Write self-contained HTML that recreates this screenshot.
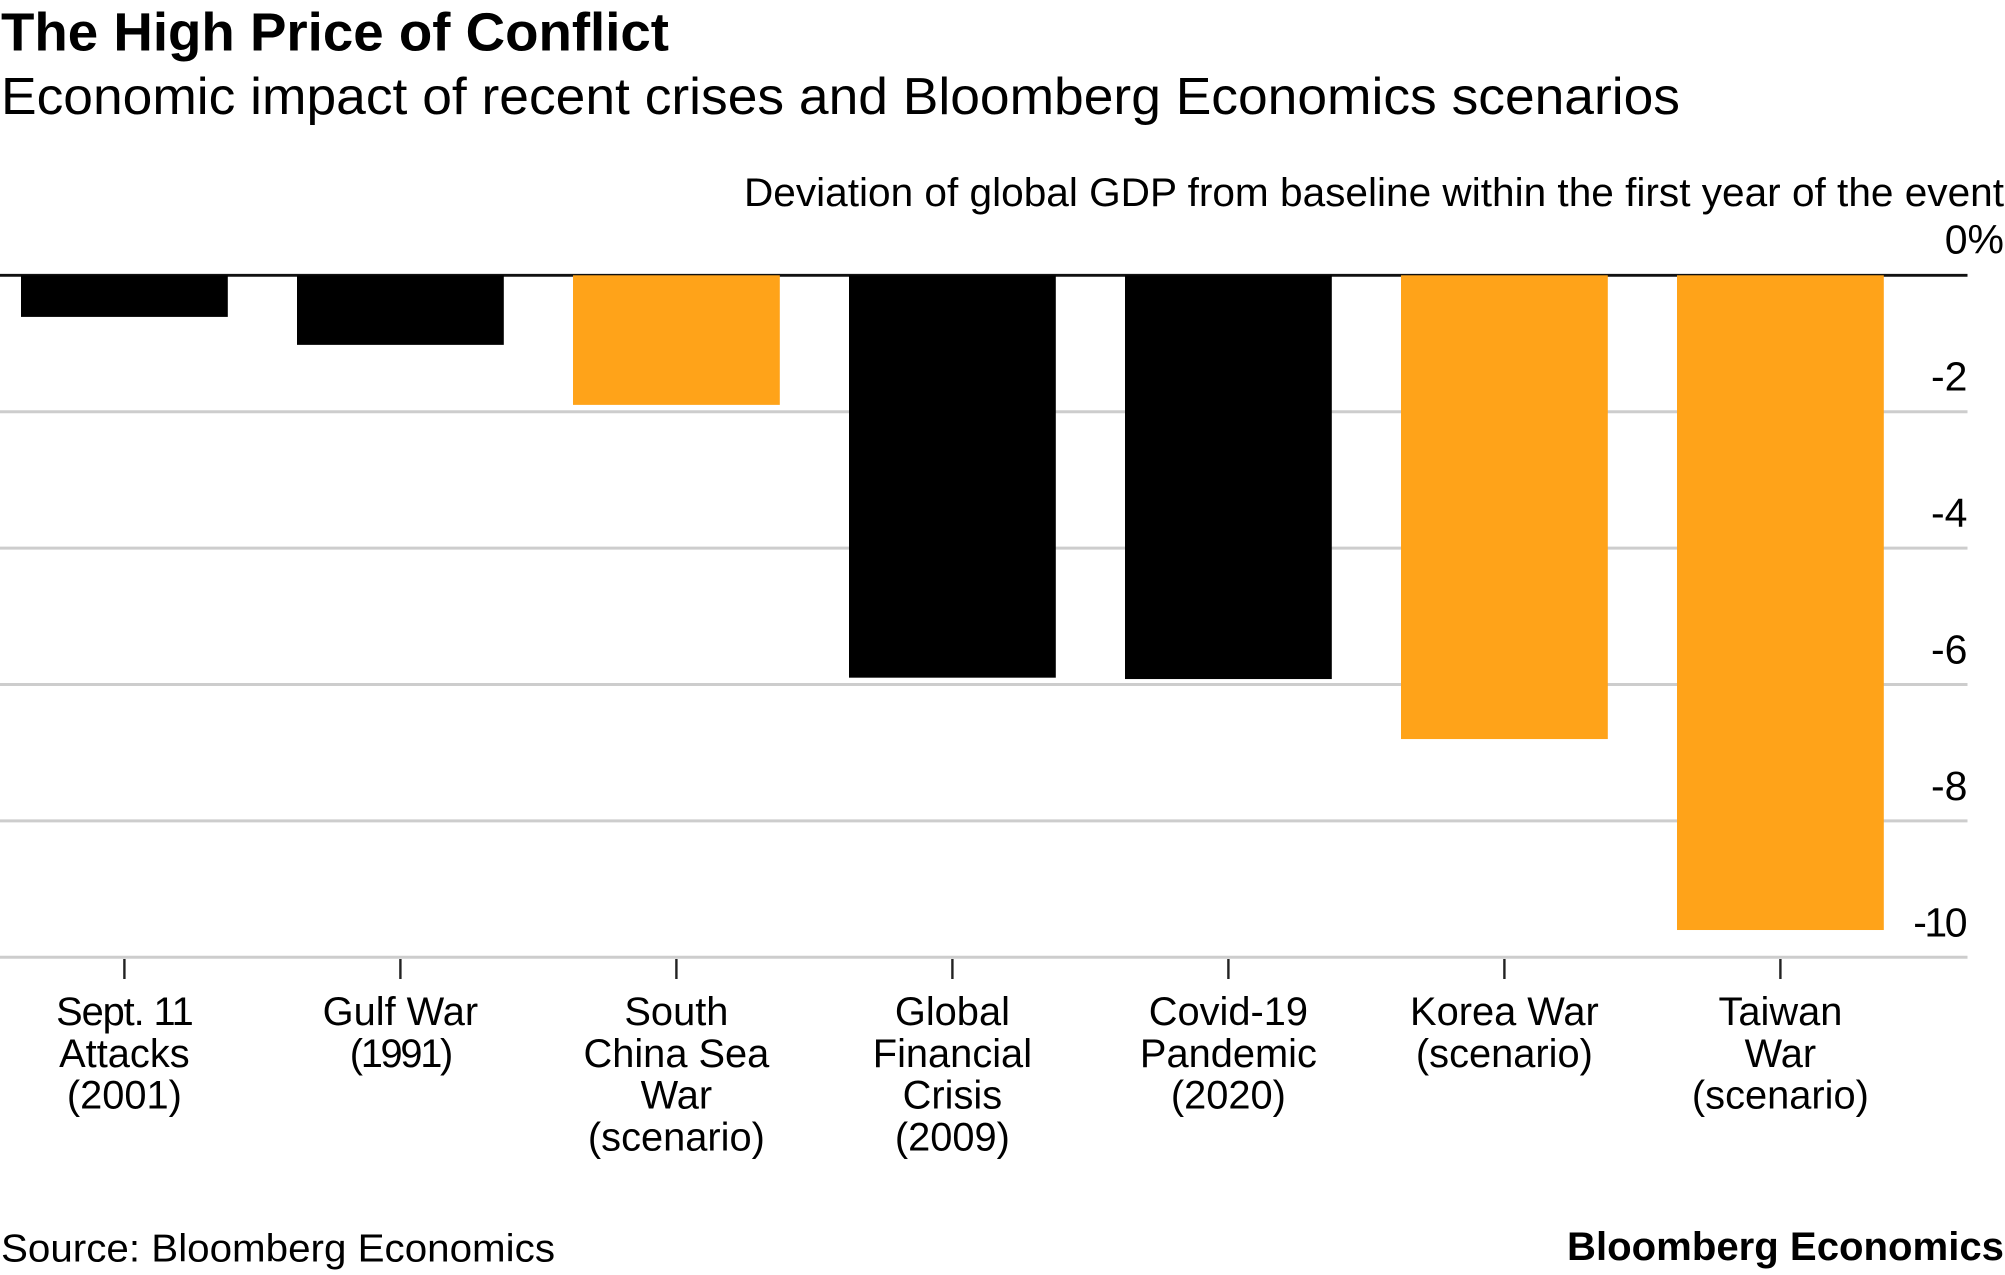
<!DOCTYPE html>
<html lang="en">
<head>
<meta charset="utf-8">
<title>The High Price of Conflict</title>
<style>
html,body{margin:0;padding:0;background:#fff;width:2005px;height:1275px;overflow:hidden}
svg{display:block;position:absolute;left:0;top:0}
text{font-family:"Liberation Sans",sans-serif;fill:#000}
.tight-a{letter-spacing:-1.1px}
.tight-b{letter-spacing:-2.3px}
</style>
</head>
<body>
<svg id="chart" width="2005" height="1275" viewBox="0 0 2005 1275" xmlns="http://www.w3.org/2000/svg">
<rect x="0" y="0" width="2005" height="1275" fill="#fff"></rect>
<text x="1" y="50.5" font-size="54" font-weight="700" textLength="668" lengthAdjust="spacingAndGlyphs">The High Price of Conflict</text>
<text x="1" y="114" font-size="52" textLength="1679" lengthAdjust="spacingAndGlyphs">Economic impact of recent crises and Bloomberg Economics scenarios</text>
<text x="2004" y="206" font-size="39.5" text-anchor="end" textLength="1260" lengthAdjust="spacingAndGlyphs">Deviation of global GDP from baseline within the first year of the event</text>
<g id="grid"></g>
<g id="bars"></g>
<g id="yticks"></g>
<g id="xticks"></g>
<text x="1" y="1261.5" font-size="39" textLength="554" lengthAdjust="spacingAndGlyphs">Source: Bloomberg Economics</text>
<text x="2004" y="1260" font-size="40" font-weight="700" text-anchor="end" textLength="437" lengthAdjust="spacingAndGlyphs">Bloomberg Economics</text>
</svg>
<script>
const categories = [
  ["Sept. 11", "Attacks", "(2001)"],
  ["Gulf War", "(1991)"],
  ["South", "China Sea", "War", "(scenario)"],
  ["Global", "Financial", "Crisis", "(2009)"],
  ["Covid-19", "Pandemic", "(2020)"],
  ["Korea War", "(scenario)"],
  ["Taiwan", "War", "(scenario)"]
];
const barNames = ["sept-11", "gulf-war", "south-china-sea", "global-financial-crisis", "covid-19", "korea-war", "taiwan-war"];
const values = [-0.61, -1.02, -1.9, -5.9, -5.92, -6.8, -9.6];
const isScenario = [false, false, true, false, false, true, true];
const yTickValues = [0, -2, -4, -6, -8, -10];
const yTickLabels = ["0%", "-2", "-4", "-6", "-8", "-10"];

const NS = "http://www.w3.org/2000/svg";
const yZero = 275.3, yUnit = 68.2;
const xFirst = 124.4, xStep = 276, barWidth = 206.8;
const gridLeft = 0, gridRight = 1967.5;
function yScale(v) { return yZero - v * yUnit; }
function xScale(i) { return xFirst + i * xStep; }
function make(tag, parent, attrs) {
  const el = document.createElementNS(NS, tag);
  for (const k in attrs) el.setAttribute(k, attrs[k]);
  parent.appendChild(el);
  return el;
}
const gridG = document.getElementById("grid");
const barsG = document.getElementById("bars");
const yG = document.getElementById("yticks");
const xG = document.getElementById("xticks");

yTickValues.forEach(function (v, i) {
  const y = yScale(v);
  if (v !== 0) {
    const line = make("line", gridG, { x1: gridLeft, x2: gridRight, y1: y, y2: y, stroke: "#cdcdcd", "stroke-width": 3 });
    
    
  }
  const tight = v === -10;
  const label = make("text", yG, { x: v === 0 ? 2004 : (tight ? 1965 : 1967.5), y: v === 0 ? y - 22 : y - 21, "font-size": 41, "text-anchor": "end", "letter-spacing": tight ? -2.5 : 0 });
  label.textContent = yTickLabels[i];
  
  
});

values.forEach(function (v, i) {
  const bar = make("rect", barsG, {
    x: xScale(i) - barWidth / 2,
    y: yScale(0),
    width: barWidth,
    height: yScale(v) - yScale(0),
    fill: isScenario[i] ? "#ffa319" : "#000000"
  });
  
  
});

const zeroLine = make("line", barsG, { x1: gridLeft, x2: gridRight, y1: yZero, y2: yZero, stroke: "#111", "stroke-width": 2.8 });


barsG.insertBefore(zeroLine, barsG.firstChild);

categories.forEach(function (lines, i) {
  const x = xScale(i);
  const tick = make("line", xG, { x1: x, x2: x, y1: 959, y2: 979, stroke: "#222", "stroke-width": 2.4 });
  
  
  const label = make("text", xG, { "font-size": 39.8, "text-anchor": "middle" });
  
  
  lines.forEach(function (ln, j) {
    const span = make("tspan", label, { x: x, y: 1025 + j * 41.8 });
    if (ln.indexOf("11") >= 0) span.setAttribute("class", "tight-a");
    if (ln.indexOf("1991") >= 0) span.setAttribute("class", "tight-b");
    span.textContent = ln;
  });
});
</script>
</body>
</html>
